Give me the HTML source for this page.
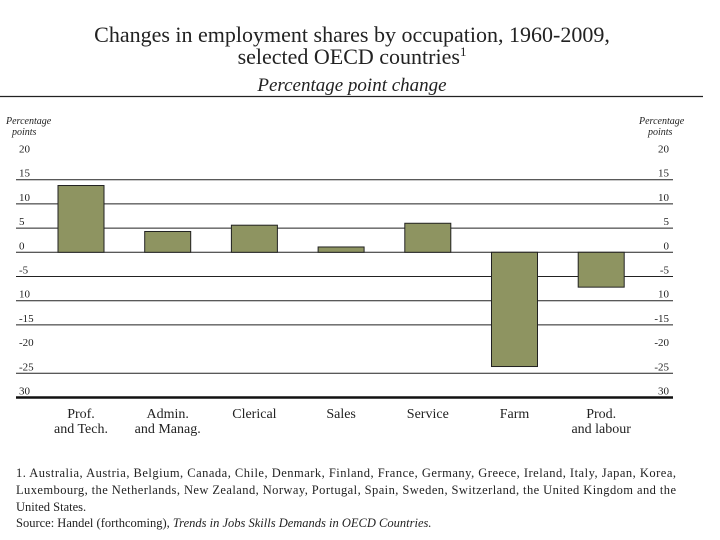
<!DOCTYPE html>
<html><head><meta charset="utf-8"><style>
html,body{margin:0;padding:0;background:#fff;}
svg{display:block;font-family:"Liberation Serif",serif;}
</style></head><body>
<svg id="chart" width="720" height="540" viewBox="0 0 720 540">
<g>
<text x="352" y="42" text-anchor="middle" font-size="22" fill="#222">Changes in employment shares by occupation, 1960-2009,</text>
<text x="352" y="64" text-anchor="middle" font-size="22" fill="#222">selected OECD countries<tspan font-size="13" dy="-8">1</tspan></text>
<text x="352" y="91" text-anchor="middle" font-size="19" font-style="italic" fill="#222">Percentage point change</text>
<line x1="0" y1="96.5" x2="703" y2="96.5" stroke="#222" stroke-width="1.2"/>
</g>
<text x="6" y="124" font-size="10" font-style="italic" fill="#222">Percentage</text>
<text x="12" y="135" font-size="10" font-style="italic" fill="#222">points</text>
<text x="639" y="124" font-size="10" font-style="italic" fill="#222">Percentage</text>
<text x="648" y="135" font-size="10" font-style="italic" fill="#222">points</text>
<g id="grid"></g><g id="bars"></g><g id="labels"></g>
<g font-size="12.5" fill="#222">
<text x="16" y="477" textLength="660" lengthAdjust="spacing">1. Australia, Austria, Belgium, Canada, Chile, Denmark, Finland, France, Germany, Greece, Ireland, Italy, Japan, Korea,</text>
<text x="16" y="494" textLength="660" lengthAdjust="spacing">Luxembourg, the Netherlands, New Zealand, Norway, Portugal, Spain, Sweden, Switzerland, the United Kingdom and the</text>
<text x="16" y="511">United States.</text>
<text x="16" y="527">Source: Handel (forthcoming), <tspan font-style="italic">Trends in Jobs Skills Demands in OECD Countries.</tspan></text>
</g>
</svg>
<script>
const categories = ["Prof.|and Tech.", "Admin.|and Manag.", "Clerical", "Sales", "Service", "Farm", "Prod.|and labour"];
const values = [13.8, 4.3, 5.6, 1.1, 6.0, -23.6, -7.2];
const tickValues = [20, 15, 10, 5, 0, -5, -10, -15, -20, -25, -30];
const tickLabels = ["20", "15", "10", "5", "0", "-5", "10", "-15", "-20", "-25", "30"];
const gridValues = [15, 10, 5, 0, -5, -10, -15, -25];

const NS = "http://www.w3.org/2000/svg";
const x0 = 16, x1 = 673;
function y(v){ return 252.3 - v * 4.84; }
function xc(i){ return 81 + i * 86.7; }
const bw = 46;
function mk(tag, attrs, parent){ const e = document.createElementNS(NS, tag); for (const k in attrs) e.setAttribute(k, attrs[k]); parent.appendChild(e); return e; }
const grid = document.getElementById("grid"), bars = document.getElementById("bars"), labels = document.getElementById("labels");

gridValues.forEach(v => {
  const l = mk("line", {x1: x0, x2: x1, y1: y(v), y2: y(v), stroke: "#222", "stroke-width": 1}, grid);
  
  
});
const ax = mk("line", {x1: x0, x2: x1, y1: y(-30), y2: y(-30), stroke: "#111", "stroke-width": 2.5}, grid);



tickValues.forEach((v, i) => {
  const t = mk("text", {x: 19, y: y(v) - 3, "font-size": 11, fill: "#222"}, labels);
  t.textContent = tickLabels[i];
  
  
  const r = mk("text", {x: 669, y: y(v) - 3, "font-size": 11, fill: "#222", "text-anchor": "end"}, labels);
  r.textContent = tickLabels[i];
  
  
});

values.forEach((v, i) => {
  const top = Math.min(y(v), y(0)), h = Math.abs(y(v) - y(0));
  const b = mk("rect", {x: xc(i) - bw/2, y: top, width: bw, height: h, fill: "#8e9461", stroke: "#222", "stroke-width": 1}, bars);
  
  
  const parts = categories[i].split('|');
  parts.forEach((p, j) => {
    const t = mk("text", {x: xc(i), y: 418 + j * 15, "font-size": 14, fill: "#222", "text-anchor": "middle"}, labels);
    t.textContent = p;
    
    
  });
});
</script>
</body></html>
